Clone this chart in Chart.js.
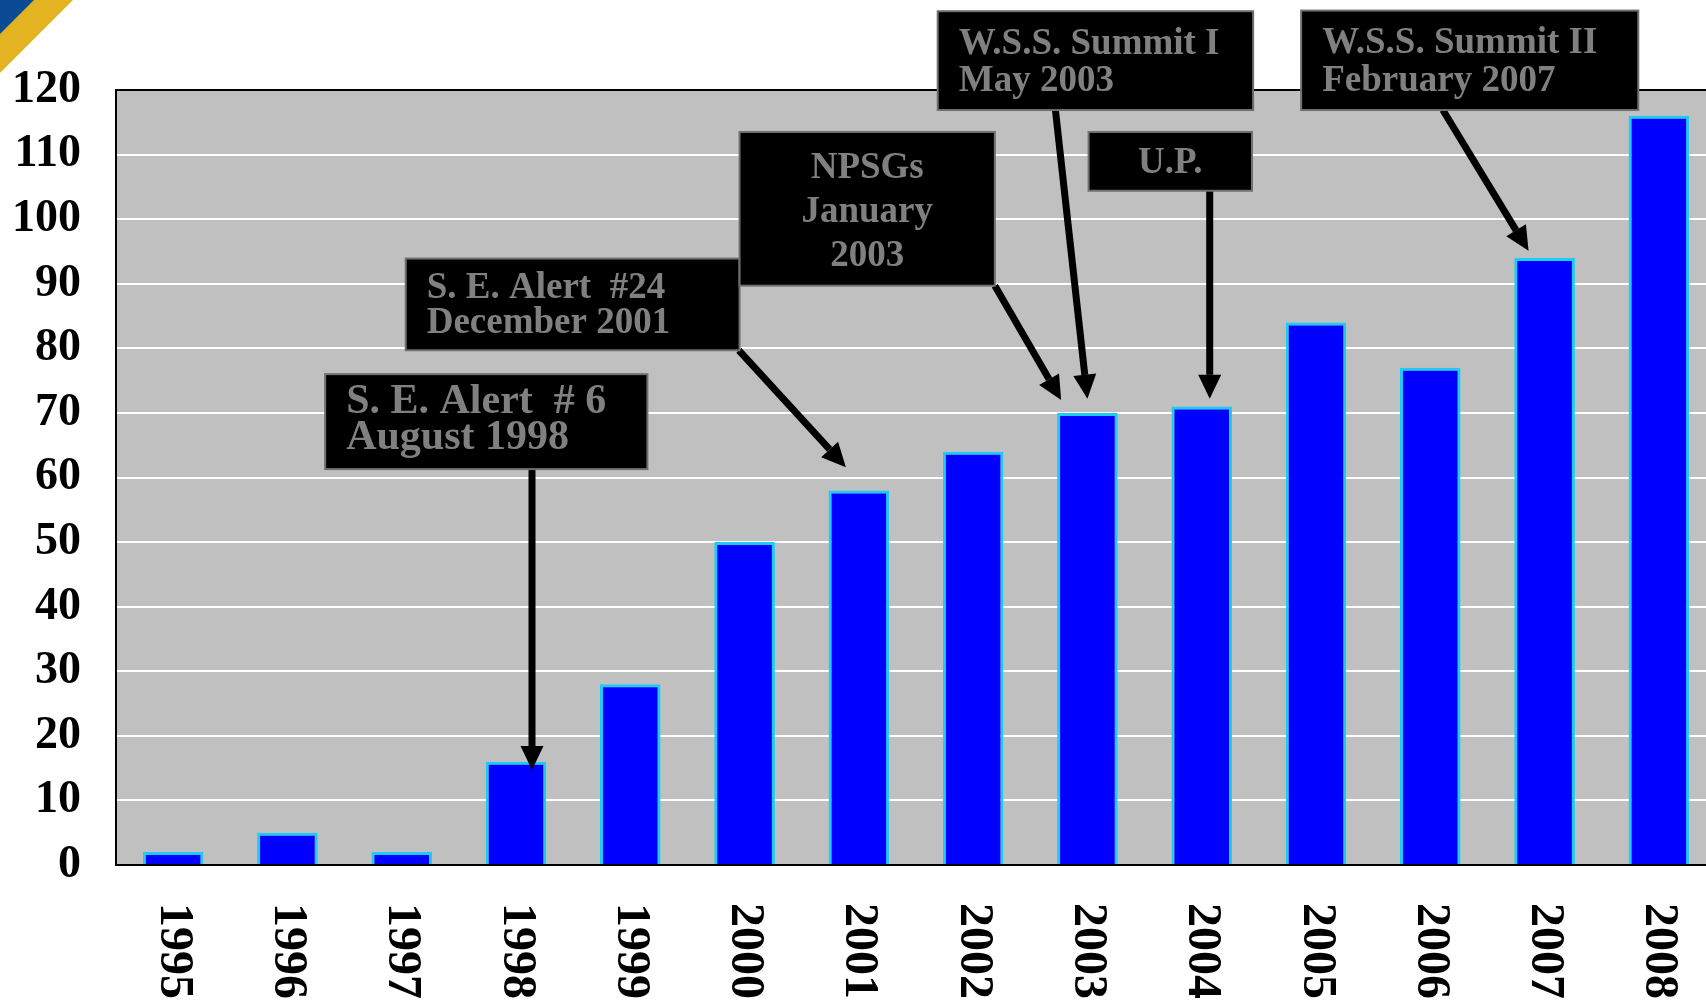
<!DOCTYPE html>
<html>
<head>
<meta charset="utf-8">
<script src="https://cdn.jsdelivr.net/npm/chart.js@4.4.1/dist/chart.umd.min.js"></script>
<style>
  html, body { margin: 0; padding: 0; background: #fff; overflow: hidden; }
  canvas { display: block; }
</style>
</head>
<body>
<canvas id="chart" width="1716" height="1002"></canvas>
<script>
const years = ['1995', '1996', '1997', '1998', '1999', '2000', '2001',
               '2002', '2003', '2004', '2005', '2006', '2007', '2008'];
const counts = [2, 5, 2, 16, 28, 50, 58, 64, 70, 71, 84, 77, 94, 116];
const yMin = 0, yMax = 120, yStep = 10;

// callout texts
const noteLabels = [
    ['S. E. Alert  # 6', 'August 1998'],
    ['S. E. Alert  #24', 'December 2001'],
    ['NPSGs', 'January', '2003'],
    ['W.S.S. Summit I', 'May 2003'],
    ['U.P.'],
    ['W.S.S. Summit II', 'February 2007']
];
// box in axis units: [from index, to index, top value, bottom value]
const noteBoxes = [
    [1.33, 4.15, 76.0, 61.3],
    [2.035, 4.956, 93.9, 79.7],
    [4.956, 7.19, 113.5, 89.7],
    [6.69, 9.45, 132.2, 116.9],
    [8.01, 9.44, 113.5, 104.4],
    [9.87, 12.82, 132.3, 116.9]
];
// baseline of every text line, in value units
const noteBaselines = [[70.0, 64.4], [87.8, 82.3], [106.4, 99.6, 92.8],
                       [125.6, 119.9], [107.1], [125.7, 119.9]];
// arrows: [from index, from value, to index, to value]
const noteArrows = [
    [3.14, 61.3, 3.14, 14.7],
    [4.95, 79.7, 5.886, 61.6],
    [7.19, 89.7, 7.77, 72.0],
    [7.72, 116.9, 8.0, 72.2],
    [9.07, 104.4, 9.07, 72.2],
    [11.11, 116.9, 11.86, 95.1]
];

const SERIF = '"Liberation Serif", "Times New Roman", serif';
const noteAlign = ['left', 'left', 'center', 'left', 'center', 'left'];
const noteSize = [42, 37, 37, 37, 37, 37];

function drawArrow(ctx, x0, y0, x1, y1) {
    const ang = Math.atan2(y1 - y0, x1 - x0);
    const head = 24, half = 11.5;
    const bx = x1 - head * Math.cos(ang), by = y1 - head * Math.sin(ang);
    ctx.strokeStyle = '#000';
    ctx.fillStyle = '#000';
    ctx.lineWidth = 7;
    ctx.beginPath();
    ctx.moveTo(x0, y0);
    ctx.lineTo(bx, by);
    ctx.stroke();
    ctx.beginPath();
    ctx.moveTo(x1, y1);
    ctx.lineTo(bx + half * Math.sin(ang), by - half * Math.cos(ang));
    ctx.lineTo(bx - half * Math.sin(ang), by + half * Math.cos(ang));
    ctx.closePath();
    ctx.fill();
}

const paintPlugin = {
    id: 'paint',
    beforeDraw(chart) {
        const {ctx, chartArea: a} = chart;
        ctx.save();
        // corner ribbon
        ctx.fillStyle = '#e3b322';
        ctx.beginPath();
        ctx.moveTo(0, 0); ctx.lineTo(73, 0); ctx.lineTo(0, 73); ctx.closePath();
        ctx.fill();
        ctx.fillStyle = '#0b4a94';
        ctx.beginPath();
        ctx.moveTo(0, 0); ctx.lineTo(34, 0); ctx.lineTo(0, 34); ctx.closePath();
        ctx.fill();
        // plot background
        ctx.fillStyle = '#c0c0c0';
        ctx.fillRect(a.left, a.top, a.right - a.left, a.bottom - a.top);
        ctx.restore();
    },
    afterDraw(chart) {
        const {ctx, chartArea: a} = chart;
        const xs = chart.scales.x, ys = chart.scales.y;
        ctx.save();
        // top frame line
        ctx.strokeStyle = '#000';
        ctx.lineWidth = 2;
        ctx.beginPath();
        ctx.moveTo(a.left, a.top);
        ctx.lineTo(a.right, a.top);
        ctx.stroke();

        // rotated year labels (read top to bottom)
        ctx.fillStyle = '#000';
        ctx.font = 'bold 48px ' + SERIF;
        ctx.textAlign = 'left';
        ctx.textBaseline = 'middle';
        years.forEach((y, i) => {
            ctx.save();
            ctx.translate(xs.getPixelForValue(i), a.bottom + 38);
            ctx.rotate(Math.PI / 2);
            ctx.fillText(y, 0, 0);
            ctx.restore();
        });

        // arrows
        noteArrows.forEach(r => {
            drawArrow(ctx, xs.getPixelForValue(r[0]), ys.getPixelForValue(r[1]),
                      xs.getPixelForValue(r[2]), ys.getPixelForValue(r[3]));
        });

        // boxes with text
        noteBoxes.forEach((b, i) => {
            const x0 = xs.getPixelForValue(b[0]), x1 = xs.getPixelForValue(b[1]);
            const y0 = ys.getPixelForValue(b[2]), y1 = ys.getPixelForValue(b[3]);
            ctx.fillStyle = '#000';
            ctx.fillRect(x0, y0, x1 - x0, y1 - y0);
            ctx.strokeStyle = '#707070';
            ctx.lineWidth = 2;
            ctx.strokeRect(x0, y0, x1 - x0, y1 - y0);
            ctx.fillStyle = '#808080';
            ctx.font = 'bold ' + noteSize[i] + 'px ' + SERIF;
            ctx.textBaseline = 'alphabetic';
            ctx.textAlign = noteAlign[i];
            const tx = noteAlign[i] === 'center' ? (x0 + x1) / 2 : x0 + 21;
            noteLabels[i].forEach((line, j) => {
                ctx.fillText(line, tx, ys.getPixelForValue(noteBaselines[i][j]));
            });
        });
        ctx.restore();
    }
};

new Chart(document.getElementById('chart').getContext('2d'), {
    type: 'bar',
    data: {
        labels: years,
        datasets: [{
            data: counts,
            backgroundColor: '#0000ff',
            borderColor: '#1ecbf5',
            borderWidth: 3,
            categoryPercentage: 1,
            barPercentage: 0.53
        }]
    },
    options: {
        responsive: false,
        animation: false,
        devicePixelRatio: 1,
        layout: {padding: {top: 90, right: 0, bottom: 0, left: 0}},
        plugins: {legend: {display: false}, tooltip: {enabled: false}},
        scales: {
            x: {
                grid: {display: false},
                border: {color: '#000', width: 2},
                ticks: {display: false},
                afterFit: s => { s.height = 137; }
            },
            y: {
                min: yMin,
                max: yMax,
                grid: {color: '#ffffff', lineWidth: 2, drawTicks: false},
                border: {color: '#000', width: 2},
                ticks: {
                    stepSize: yStep,
                    padding: 35,
                    color: '#000',
                    font: {family: SERIF, size: 46, weight: 'bold'}
                },
                afterFit: s => { s.width = 116; }
            }
        }
    },
    plugins: [paintPlugin]
});
</script>
</body>
</html>
